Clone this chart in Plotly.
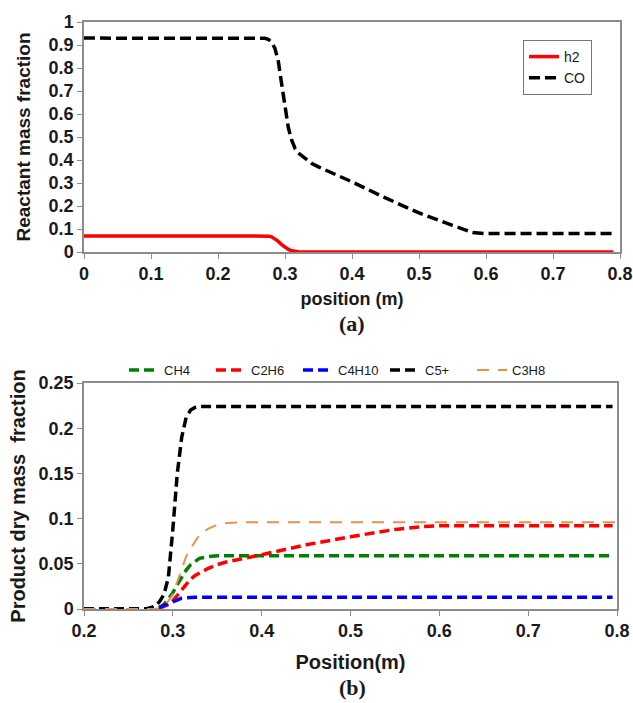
import plotly.graph_objects as go

# ---- Panel (a) data ----
pos_a = [0, 0.05, 0.1, 0.15, 0.2, 0.25, 0.26, 0.27, 0.275, 0.28, 0.285, 0.29, 0.295,
         0.30, 0.305, 0.31, 0.315, 0.32, 0.33, 0.34, 0.35, 0.37, 0.40, 0.45, 0.50,
         0.55, 0.58, 0.60, 0.65, 0.70, 0.75, 0.79]
h2 = [0.07, 0.07, 0.07, 0.07, 0.07, 0.07, 0.07, 0.07, 0.069, 0.066, 0.058, 0.046, 0.032,
      0.02, 0.011, 0.005, 0.002, 0.001, 0, 0, 0, 0, 0, 0, 0,
      0, 0, 0, 0, 0, 0, 0]
co = [0.93, 0.93, 0.93, 0.93, 0.93, 0.93, 0.93, 0.929, 0.925, 0.912, 0.885, 0.83, 0.73,
      0.63, 0.54, 0.486, 0.45, 0.43, 0.405, 0.385, 0.37, 0.345, 0.305, 0.235, 0.17,
      0.116, 0.085, 0.08, 0.08, 0.08, 0.08, 0.08]

# ---- Panel (b) data ----
pos_b = [0.2, 0.25, 0.27, 0.28, 0.285, 0.29, 0.295, 0.30, 0.305, 0.31, 0.315, 0.32,
         0.325, 0.33, 0.34, 0.35, 0.36, 0.38, 0.40, 0.45, 0.50, 0.55, 0.58, 0.60,
         0.65, 0.70, 0.75, 0.795]
ch4 = [0, 0, 0, 0, 0.001, 0.005, 0.011, 0.018, 0.027, 0.036, 0.043, 0.049,
       0.053, 0.056, 0.058, 0.059, 0.059, 0.059, 0.059, 0.059, 0.059, 0.059, 0.059, 0.059,
       0.059, 0.059, 0.059, 0.059]
c2h6 = [0, 0, 0, 0, 0.001, 0.003, 0.005, 0.009, 0.015, 0.022, 0.028, 0.033,
        0.037, 0.040, 0.045, 0.049, 0.052, 0.056, 0.060, 0.071, 0.080, 0.088, 0.091, 0.092,
        0.092, 0.092, 0.092, 0.092]
c4h10 = [0, 0, 0, 0.001, 0.002, 0.004, 0.006, 0.0085, 0.011, 0.012, 0.0125, 0.013,
         0.013, 0.013, 0.013, 0.013, 0.013, 0.013, 0.013, 0.013, 0.013, 0.013, 0.013, 0.013,
         0.013, 0.013, 0.013, 0.013]
c5p = [0, 0, 0, 0.003, 0.008, 0.016, 0.035, 0.088, 0.15, 0.19, 0.212, 0.22,
       0.223, 0.224, 0.224, 0.224, 0.224, 0.224, 0.224, 0.224, 0.224, 0.224, 0.224, 0.224,
       0.224, 0.224, 0.224, 0.224]
c3h8 = [0, 0, 0, 0, 0.001, 0.004, 0.009, 0.016, 0.030, 0.045, 0.058, 0.067,
        0.075, 0.082, 0.089, 0.093, 0.095, 0.096, 0.096, 0.096, 0.096, 0.096, 0.096, 0.096,
        0.096, 0.096, 0.096, 0.096]
pos_c3h8 = pos_b[:-1] + [0.8]

W, H = 633, 703

def px_x(p):
    return p / W

def px_y(p):
    return 1 - p / H

fig = go.Figure()

fig.add_trace(go.Scatter(x=pos_a, y=h2, name="h2", mode="lines",
                         line=dict(color="#ff0000", width=3.5), legend="legend",
                         xaxis="x", yaxis="y"))
fig.add_trace(go.Scatter(x=pos_a, y=co, name="CO", mode="lines",
                         line=dict(color="#000000", width=3.5, dash="11px,5px"),
                         legend="legend", xaxis="x", yaxis="y"))

dash_b = "10px,5px"
fig.add_trace(go.Scatter(x=pos_b, y=ch4, name="CH4", mode="lines",
                         line=dict(color="#008000", width=3.5, dash=dash_b),
                         legend="legend2", xaxis="x2", yaxis="y2"))
fig.add_trace(go.Scatter(x=pos_b, y=c2h6, name="C2H6", mode="lines",
                         line=dict(color="#ff0000", width=3.5, dash=dash_b),
                         legend="legend2", xaxis="x2", yaxis="y2"))
fig.add_trace(go.Scatter(x=pos_b, y=c4h10, name="C4H10", mode="lines",
                         line=dict(color="#0000ff", width=3.5, dash=dash_b),
                         legend="legend2", xaxis="x2", yaxis="y2"))
fig.add_trace(go.Scatter(x=pos_b, y=c5p, name="C5+", mode="lines",
                         line=dict(color="#000000", width=3.5, dash=dash_b),
                         legend="legend2", xaxis="x2", yaxis="y2"))
fig.add_trace(go.Scatter(x=pos_c3h8, y=c3h8, name="C3H8", mode="lines",
                         line=dict(color="#e8914a", width=2, dash="12px,9px"),
                         legend="legend2", xaxis="x2", yaxis="y2"))

axis_common = dict(showline=True, linecolor="#8c8c8c", linewidth=1.5, mirror=True,
                   ticks="outside", ticklen=5, tickcolor="#8c8c8c", showgrid=False,
                   zeroline=False, automargin=False,
                   tickfont=dict(family="Liberation Sans, Arial", size=18, color="#1a1a1a", weight="bold"))

fig.update_layout(
    width=W, height=H,
    margin=dict(l=0, r=0, t=0, b=0),
    paper_bgcolor="white", plot_bgcolor="white",
    font=dict(family="Liberation Sans, Arial", color="#1a1a1a"),
    xaxis=dict(domain=[px_x(84), px_x(620)], range=[0, 0.8], dtick=0.1, anchor="y",
               title=dict(text="position (m)", standoff=9,
                          font=dict(size=18, weight="bold")),
               **axis_common),
    yaxis=dict(domain=[px_y(252), px_y(22)], range=[0, 1], dtick=0.1, anchor="x",
               title=dict(text="Reactant mass fraction", standoff=13,
                          font=dict(size=19, weight="bold")),
               **axis_common),
    xaxis2=dict(domain=[px_x(84), px_x(617)], range=[0.2, 0.8], dtick=0.1, anchor="y2",
                title=dict(text="Position(m)", standoff=15,
                           font=dict(size=20, weight="bold")),
                **axis_common),
    yaxis2=dict(domain=[px_y(609), px_y(383)], range=[0, 0.25], dtick=0.05, anchor="x2",
                title=dict(text="Product dry mass  fraction", standoff=8,
                           font=dict(size=20, weight="bold")),
                **axis_common),
    legend=dict(x=px_x(523), y=px_y(40), xanchor="left", yanchor="top",
                bordercolor="#777777", borderwidth=1, bgcolor="white",
                font=dict(size=14, color="#1a1a1a"), itemwidth=30,
                tracegroupgap=0),
    legend2=dict(orientation="h", x=px_x(124), y=px_y(370), xanchor="left",
                 yanchor="middle", font=dict(size=13, color="#1a1a1a"),
                 bgcolor="rgba(0,0,0,0)", itemwidth=30,
                 entrywidth=42, entrywidthmode="pixels"),
    annotations=[
        dict(text="(a)", x=px_x(352), y=px_y(323), xref="paper", yref="paper",
             xanchor="center", yanchor="middle", showarrow=False,
             font=dict(family="Liberation Serif, Times New Roman",
                       size=22, weight="bold", color="#1a1a1a")),
        dict(text="(b)", x=px_x(352), y=px_y(687), xref="paper", yref="paper",
             xanchor="center", yanchor="middle", showarrow=False,
             font=dict(family="Liberation Serif, Times New Roman",
                       size=22, weight="bold", color="#1a1a1a")),
    ],
)

fig.write_html(
    "out.html",
    config={"displayModeBar": False},
    post_script="document.body.style.margin='0';document.body.style.overflow='hidden';",
)
